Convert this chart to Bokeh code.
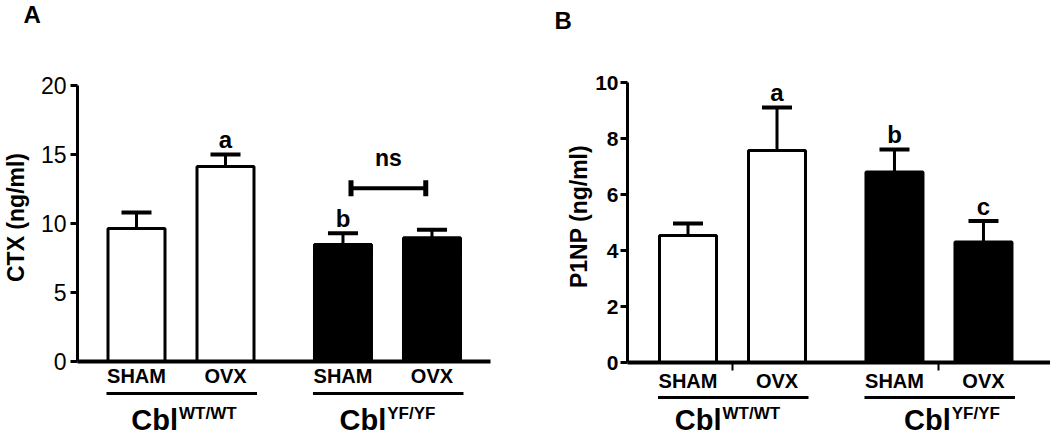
import math
from bokeh.plotting import figure
from bokeh.layouts import row
from bokeh.models import LinearAxis, FixedTicker, Range1d, ColumnDataSource, CustomJSTickFormatter
from bokeh.embed import file_html
from bokeh.resources import INLINE
from bokeh.core.properties import value

# ---------------- data ----------------
conditions = ["SHAM", "OVX", "SHAM", "OVX"]
genotype_sup = ["WT/WT", "YF/YF"]
group_of_bar = [0, 0, 1, 1]

ctx_mean = [9.64, 14.13, 8.48, 8.97]
ctx_sem = [1.16, 0.87, 0.82, 0.57]
ctx_letters = ["", "a", "b", ""]
ctx_ticks = [0, 5, 10, 15, 20]

p1np_mean = [4.54, 7.57, 6.80, 4.30]
p1np_sem = [0.42, 1.54, 0.81, 0.75]
p1np_letters = ["", "a", "b", "c"]
p1np_ticks = [0, 2, 4, 6, 8, 10]

# ---------------- layout ----------------
FONT = "Liberation Sans"
H = 436
UNIT = 89.0            # px per x unit
GROUP_STEP = 2.32
BAR_W = 57 / UNIT
CAP_W = 30 / UNIT


def bar_x(i):
    return 1 + (i % 2) + group_of_bar[i] * GROUP_STEP


def make_panel(cfg, means, sems, letters, ticks, ylabel, tag):
    width = cfg["width"]
    ppu = cfg["ppu"]
    xs = 1 - cfg["bar1_px"] / UNIT
    xe = xs + width / UNIT
    yt = cfg["zero_py"] / ppu
    yb = yt - H / ppu
    X = lambda px: xs + px / UNIT
    Y = lambda py: yt - py / ppu

    p = figure(width=width, height=H, x_range=Range1d(xs, xe), y_range=Range1d(yb, yt),
               output_backend="svg", toolbar_location=None, min_border=0,
               x_axis_type=None, y_axis_type=None)
    p.outline_line_color = None
    p.background_fill_color = "white"
    p.border_fill_color = "white"

    xb = [bar_x(i) for i in range(4)]
    tops = [m + s for m, s in zip(means, sems)]
    fills = ["white" if g == 0 else "black" for g in group_of_bar]
    src = ColumnDataSource(dict(
        x=xb, top=means, err=tops, fill=fills, lab=conditions, let=letters,
        lety=[t + cfg["let_off"] / ppu for t in tops],
        c0=[x - CAP_W / 2 for x in xb], c1=[x + CAP_W / 2 for x in xb]))

    # error bars (upper only)
    p.segment(x0="x", y0="top", x1="x", y1="err", source=src, line_color="black", line_width=3)
    p.segment(x0="c0", y0="err", x1="c1", y1="err", source=src, line_color="black", line_width=4)
    # bars
    p.vbar(x="x", top="top", bottom=0, width=BAR_W, fill_color="fill", line_color="black",
           line_width=3, source=src)

    # significance letters
    p.text(x="x", y="lety", text="let", source=src, text_align="center", text_baseline="middle",
           text_font=value(FONT), text_font_style="bold", text_font_size="24px",
           text_color="black")

    # condition labels
    p.text(x="x", y=Y(cfg["zero_py"] + cfg["lab_off"]), text="lab", source=src, text_align="center",
           text_baseline="middle", text_font=value(FONT), text_font_style="bold",
           text_font_size="20px", text_color="black")

    # group underlines and genotype labels
    for g in range(2):
        i0, i1 = 2 * g, 2 * g + 1
        x0 = xb[i0] - BAR_W / 2 - 1.5 / UNIT
        x1 = xb[i1] + BAR_W / 2 + 3 / UNIT
        yl = Y(cfg["zero_py"] + cfg["line_off"])
        p.segment(x0=[x0], y0=[yl], x1=[x1], y1=[yl], line_color="black", line_width=3)
        xc = (xb[i0] + xb[i1]) / 2
        f1, f2 = 29, 17
        w1 = 1.611 * f1
        em = 3.388 if g == 0 else 2.834
        w2 = em * f2
        start = -(w1 + w2 + 1) / 2 + cfg["cbl_shift"][g]
        p.text(x=[xc], y=[Y(419)], text=["Cbl"], x_offset=start, text_align="left",
               text_baseline="middle", text_font=value(FONT), text_font_style="bold",
               text_font_size=f"{f1}px", text_color="black")
        p.text(x=[xc], y=[Y(413)], text=[genotype_sup[g]], x_offset=start + w1 + 1,
               text_align="left", text_baseline="middle", text_font=value(FONT),
               text_font_style="bold", text_font_size=f"{f2}px", text_color="black")

    # panel tag
    p.text(x=[X(cfg["tag_px"][0])], y=[Y(cfg["tag_px"][1])], text=[tag], text_align="left",
           text_baseline="middle", text_font=value(FONT), text_font_style="bold",
           text_font_size="24px", text_color="black")

    # y axis title (rotated)
    p.text(x=[X(cfg["ylab_px"][0])], y=[Y(cfg["ylab_px"][1])], text=[ylabel], angle=math.pi / 2,
           text_align="center", text_baseline="middle", text_font=value(FONT),
           text_font_style="bold", text_font_size="23px", text_color="black")

    # y axis
    yax = LinearAxis(fixed_location=X(cfg["axis_px"]), bounds=(0, ticks[-1]),
                     ticker=FixedTicker(ticks=ticks, minor_ticks=[]))
    yax.axis_line_width = 3
    yax.major_tick_line_width = 3
    yax.major_tick_in = 0
    yax.major_tick_out = 7
    yax.minor_tick_line_color = None
    yax.major_label_standoff = cfg["label_standoff"]
    yax.major_label_text_font = FONT
    yax.major_label_text_font_size = cfg["tick_size"]
    yax.major_label_text_font_style = cfg["tick_style"]
    yax.major_label_text_color = "black"
    p.add_layout(yax, "left")

    # x axis at zero
    xax = LinearAxis(fixed_location=0, bounds=(X(cfg["axis_px"]), X(cfg["xend_px"])),
                     ticker=FixedTicker(ticks=cfg["xticks"], minor_ticks=[]),
                     formatter=CustomJSTickFormatter(code="return ''"))
    xax.axis_line_width = 4
    xax.major_tick_line_width = 2
    xax.major_tick_in = 0
    xax.major_tick_out = 8
    xax.minor_tick_line_color = None
    p.add_layout(xax, "below")
    return p, X, Y, xb


cfgA = dict(width=520, ppu=13.8, bar1_px=136, zero_py=361, axis_px=77, xend_px=490,
            lab_off=14, line_off=32, cbl_shift=[3, 0], tag_px=(23, 14), let_off=15,
            tick_size="23px", tick_style="normal", label_standoff=4, ylab_px=(15, 217),
            xticks=[])
cfgB = dict(width=530, ppu=28.0, bar1_px=167.5, zero_py=362, axis_px=107, xend_px=530,
            lab_off=18, line_off=35, cbl_shift=[-5, 13], tag_px=(34, 20), let_off=15,
            tick_size="21px", tick_style="bold", label_standoff=2, ylab_px=(58, 216),
            xticks=[(bar_x(0) + bar_x(1)) / 2, (bar_x(2) + bar_x(3)) / 2])

pA, XA, YA, xbA = make_panel(cfgA, ctx_mean, ctx_sem, ctx_letters, ctx_ticks, "CTX (ng/ml)", "A")
pB, XB, YB, xbB = make_panel(cfgB, p1np_mean, p1np_sem, p1np_letters, p1np_ticks, "P1NP (ng/ml)", "B")

# "ns" bracket between CblYF/YF SHAM and OVX in panel A
NS_Y = 12.55
bx0, bx1 = xbA[2] + 0.09, xbA[3] - 0.07
pA.segment(x0=[bx0], y0=[NS_Y], x1=[bx1], y1=[NS_Y], line_color="black", line_width=4)
cap_h = 8 / cfgA["ppu"]
pA.segment(x0=[bx0, bx1], y0=[NS_Y - cap_h] * 2, x1=[bx0, bx1], y1=[NS_Y + cap_h] * 2,
           line_color="black", line_width=5)
pA.text(x=[(bx0 + bx1) / 2], y=[NS_Y + 30 / cfgA["ppu"]], text=["ns"], text_align="center",
        text_baseline="middle", text_font=value(FONT), text_font_style="bold",
        text_font_size="23px", text_color="black")

layout = row(pA, pB)
open("out.html", "w").write(file_html(layout, INLINE))
